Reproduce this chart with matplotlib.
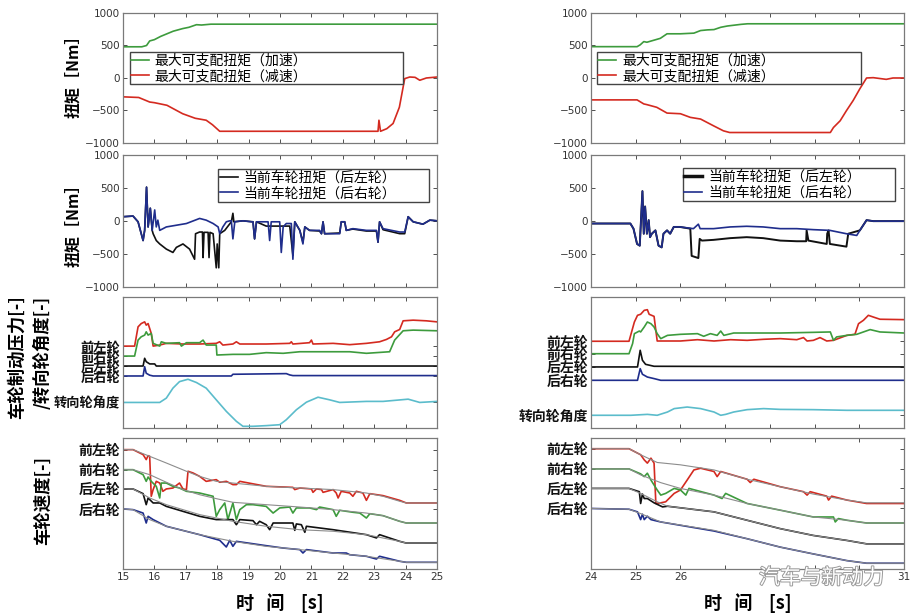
import matplotlib
matplotlib.use('Agg')
import numpy as np
import matplotlib.pyplot as plt
import matplotlib.patheffects as pe
from matplotlib import font_manager

plt.rcParams['font.family'] = ['Noto Sans CJK SC', 'DejaVu Sans']
_names = {f.name for f in font_manager.fontManager.ttflist}
NUM_FONT = 'Liberation Sans Narrow' if 'Liberation Sans Narrow' in _names else 'DejaVu Sans'

GREEN = '#3d9b3d'
RED = '#d42a20'
BLACK = '#111111'
BLUE = '#1f2d8c'
CYAN = '#5bbccb'
GREY = '#8c8c8c'

# --- labels ---
acc_label = '最大可支配扭矩（加速）'
dec_label = '最大可支配扭矩（减速）'
rl_trq_label = '当前车轮扭矩（后左轮）'
rr_trq_label = '当前车轮扭矩（后右轮）'
wheel_names = ['前左轮', '前右轮', '后左轮', '后右轮']
steer_name = '转向轮角度'

# ================= left window: 15-25 s =================
# max torque [Nm]
acc_L = [(15.0, 480), (15.6, 480), (15.75, 500), (15.85, 570), (16.0, 590), (16.2, 640),
         (16.4, 680), (16.6, 720), (16.9, 760), (17.1, 780), (17.34, 820), (17.5, 815),
         (17.8, 828), (25.0, 828)]
dec_L = [(15.0, -290), (15.5, -300), (15.85, -370), (16.0, -380), (16.4, -420), (16.9, -550),
         (17.3, -620), (17.65, -650), (17.85, -720), (18.08, -820), (23.12, -820), (23.15, -650),
         (23.2, -820), (23.4, -780), (23.6, -700), (23.8, -450), (23.97, -10), (24.13, 15),
         (24.3, 10), (24.45, -35), (24.66, 0), (25.0, 15)]

# current wheel torque [Nm]
rr_trq_L = [(15.0, 67), (15.32, 77), (15.48, -10), (15.64, -294), (15.69, -140), (15.75, 516),
            (15.80, -88), (15.87, 196), (15.93, -140), (16.01, 170), (16.06, -88), (16.11, 15),
            (16.17, -140), (16.38, -88), (16.70, -62), (17.02, -36), (17.44, 41), (17.65, 15),
            (17.87, -36), (18.03, -88), (18.08, -191), (18.18, -88), (18.29, -10), (18.40, 5),
            (18.45, 5), (18.50, -269), (18.56, -10), (18.82, 5), (19.09, -10), (19.14, -10),
            (19.19, -269), (19.25, -10), (19.56, -10), (19.62, -10), (19.67, -294), (19.72, -10),
            (19.99, -10), (20.04, -475), (20.10, -88), (20.20, -36), (20.36, -36), (20.41, -578),
            (20.47, -10), (20.63, -140), (20.73, -346), (20.79, -88), (20.94, -140), (21.26, -140),
            (21.32, -191), (21.37, -10), (21.42, -191), (21.90, -191), (21.95, -10), (22.06, -10),
            (22.11, -140), (22.32, -114), (22.75, -140), (23.07, -140), (23.12, -320), (23.17, -10),
            (23.28, -114), (23.81, -165), (23.97, -165), (24.08, 67), (24.24, -10), (24.55, -46),
            (24.77, 15), (25.0, 5)]
rl_trq_L = [(15.0, 67), (15.32, 77), (15.48, -10), (15.64, -294), (15.69, -140), (15.75, 516),
            (15.80, -88), (15.87, 196), (15.93, -140), (15.96, -191), (16.06, -294), (16.17, -346),
            (16.38, -424), (16.59, -475), (16.70, -398), (16.91, -346), (17.12, -424), (17.28, -578),
            (17.31, -191), (17.44, -165), (17.53, -165), (17.55, -553), (17.58, -170), (17.71, -170),
            (17.74, -553), (17.77, -170), (17.87, -191), (17.97, -708), (18.00, -346), (18.05, -708),
            (18.08, -191), (18.24, -140), (18.45, -10), (18.50, 119), (18.53, -10), (18.82, 5),
            (19.14, -10), (19.19, -269), (19.25, -10), (19.56, -75), (20.31, -75), (20.41, -520),
            (20.47, -10), (20.63, -140), (20.73, -320), (20.79, -88), (20.94, -140), (21.26, -150),
            (21.32, -191), (21.37, -10), (21.42, -191), (21.90, -180), (21.95, -10), (22.06, -10),
            (22.11, -140), (22.32, -120), (22.75, -150), (23.07, -150), (23.12, -320), (23.17, -10),
            (23.28, -130), (23.81, -190), (23.97, -190), (24.08, 67), (24.24, -10), (24.55, -46),
            (24.77, 15), (25.0, 5)]

# brake pressure / steering angle [-]
fl_prs_L = [(15.0, 62.5), (15.37, 62.5), (15.48, 77.2), (15.58, 79.7), (15.69, 81.0), (15.74, 78.5),
            (15.80, 79.7), (15.90, 72.2), (15.96, 62.5), (16.17, 63.3), (16.38, 64.6), (16.91, 64.1),
            (17.44, 64.1), (17.97, 64.6), (18.08, 65.8), (18.18, 63.3), (18.50, 64.1), (18.61, 65.8),
            (18.72, 64.1), (19.56, 64.1), (20.31, 64.6), (20.36, 65.8), (20.41, 64.1), (20.94, 65.1),
            (21.00, 67.1), (21.05, 64.1), (21.69, 64.6), (22.22, 63.6), (22.75, 64.6), (23.17, 65.8),
            (23.39, 67.6), (23.55, 69.6), (23.65, 73.4), (23.81, 75.2), (23.92, 81.8), (24.24, 82.3),
            (24.66, 81.8), (25.0, 81.0)]
fr_prs_L = [(15.0, 54.9), (15.37, 54.9), (15.48, 67.1), (15.58, 69.6), (15.69, 70.9), (15.74, 73.4),
            (15.80, 70.9), (15.90, 72.2), (15.96, 64.6), (16.17, 62.5), (16.22, 65.8), (16.38, 64.6),
            (16.80, 65.1), (16.86, 62.5), (17.02, 65.1), (17.44, 65.1), (17.55, 67.1), (17.65, 63.3),
            (17.97, 63.3), (17.99, 55.7), (18.50, 56.2), (19.03, 56.2), (19.56, 57.5), (20.10, 57.0),
            (20.63, 58.2), (21.69, 58.2), (22.22, 58.2), (22.75, 57.0), (23.49, 58.2), (23.65, 67.1),
            (23.92, 74.2), (24.24, 74.7), (25.0, 74.2)]
rl_prs_L = [(15.0, 47.3), (15.64, 47.3), (15.69, 53.2), (15.74, 50.6), (15.85, 48.9), (16.01, 48.9),
            (16.06, 47.3), (25.0, 47.3)]
rr_prs_L = [(15.0, 39.7), (15.64, 39.7), (15.69, 46.8), (15.74, 41.8), (15.85, 40.3), (15.96, 39.7),
            (18.45, 39.7), (18.50, 41.0), (20.20, 41.5), (20.31, 40.5), (20.41, 40.0), (25.0, 40.0)]
steer_L = [(15.0, 19.5), (16.17, 19.5), (16.38, 22.8), (16.59, 30.4), (16.80, 35.4), (17.07, 37.2),
           (17.34, 34.7), (17.65, 30.4), (17.97, 21.5), (18.29, 12.7), (18.61, 5.1), (18.82, 1.3),
           (19.14, 1.3), (19.56, 1.8), (19.99, 2.5), (20.20, 6.3), (20.52, 13.9), (20.84, 19.7),
           (21.21, 23.5), (21.58, 21.5), (21.90, 19.5), (22.75, 20.3), (23.28, 20.3), (24.08, 22.0),
           (24.45, 19.5), (25.0, 20.3)]

# wheel speed [-] (coloured) and reference speed (grey)
fl_spd_L = [(15.0, 91.1), (15.32, 91.1), (15.64, 87.3), (15.74, 83.5), (15.80, 86.5), (15.85, 86.0),
            (15.90, 55.5), (15.96, 60.6), (16.06, 66.9), (16.17, 65.6), (16.27, 59.3), (16.38, 61.1),
            (16.59, 61.8), (16.80, 65.6), (16.91, 61.1), (17.02, 60.6), (17.07, 74.6), (17.23, 73.3),
            (17.44, 70.7), (17.65, 66.9), (17.97, 68.2), (18.08, 66.2), (18.29, 66.9), (18.50, 64.4),
            (18.61, 64.4), (18.72, 66.9), (19.56, 63.1), (20.41, 62.3), (20.47, 60.6), (20.63, 61.8),
            (21.00, 61.1), (21.05, 58.5), (21.16, 61.1), (21.32, 60.6), (21.37, 58.5), (21.69, 60.6),
            (21.79, 58.0), (21.85, 54.2), (21.95, 59.3), (22.22, 58.0), (22.32, 55.5), (22.43, 59.3),
            (22.64, 58.0), (22.75, 52.4), (22.86, 57.5), (23.28, 56.0), (23.81, 52.4), (24.02, 50.4),
            (25.0, 50.4)]
fl_ref_L = [(15.0, 91.1), (15.32, 91.1), (15.85, 86.0), (16.38, 80.9), (17.02, 74.6), (17.44, 70.7),
            (17.97, 66.9), (18.50, 65.6), (19.56, 63.1), (20.63, 61.8), (21.69, 60.6), (22.75, 58.0),
            (23.28, 55.5), (23.81, 51.7), (24.02, 50.4), (25.0, 50.4)]
fr_spd_L = [(15.0, 75.8), (15.32, 75.8), (15.64, 72.0), (15.74, 66.9), (15.80, 70.2), (15.90, 66.9),
            (16.06, 63.1), (16.17, 54.2), (16.22, 65.6), (16.38, 65.6), (16.59, 63.1), (16.80, 61.8),
            (17.02, 59.3), (17.44, 58.0), (17.87, 55.5), (17.97, 40.2), (18.08, 45.3), (18.24, 50.4),
            (18.34, 37.7), (18.50, 50.4), (18.61, 37.7), (18.72, 45.3), (18.93, 49.1), (19.14, 49.1),
            (19.56, 47.8), (19.78, 42.7), (19.99, 46.6), (20.31, 47.3), (20.41, 42.7), (20.52, 46.6),
            (20.94, 46.6), (21.16, 45.3), (21.26, 47.3), (21.69, 45.3), (21.79, 40.2), (21.90, 44.8),
            (22.32, 43.3), (22.54, 42.7), (22.75, 38.9), (22.86, 42.2), (23.28, 40.7), (23.81, 36.4),
            (24.02, 35.1), (25.0, 35.1)]
fr_ref_L = [(15.0, 75.8), (15.32, 75.8), (15.85, 72.0), (16.38, 66.2), (16.91, 60.6), (17.44, 56.7),
            (17.97, 53.7), (18.50, 50.9), (19.56, 49.1), (20.63, 47.3), (21.69, 45.3), (22.75, 42.7),
            (23.28, 40.7), (23.81, 36.4), (24.02, 35.1), (25.0, 35.1)]
rl_spd_L = [(15.0, 61.1), (15.32, 61.1), (15.64, 57.5), (15.74, 49.1), (15.80, 54.2), (15.96, 50.4),
            (16.17, 50.4), (16.38, 47.8), (17.44, 40.2), (17.97, 37.7), (18.50, 37.7), (18.61, 33.8),
            (18.72, 37.7), (19.14, 36.9), (19.25, 33.8), (19.35, 36.4), (19.56, 33.8), (19.67, 30.0),
            (19.78, 35.1), (20.41, 35.1), (20.47, 29.5), (20.52, 34.4), (20.68, 33.8), (20.79, 28.0),
            (20.84, 32.6), (21.69, 30.0), (22.75, 26.2), (23.07, 23.7), (23.17, 26.2), (23.81, 21.1),
            (24.02, 19.8), (25.0, 19.8)]
rl_ref_L = [(15.0, 61.1), (15.32, 61.1), (15.85, 54.2), (16.38, 49.1), (17.44, 41.5), (18.50, 36.4),
            (19.56, 32.6), (20.63, 30.0), (21.69, 28.8), (22.75, 26.2), (23.81, 21.1), (24.02, 19.8),
            (25.0, 19.8)]
rr_spd_L = [(15.0, 45.8), (15.32, 45.3), (15.64, 42.7), (15.74, 35.1), (15.80, 40.2), (15.96, 37.7),
            (16.38, 32.6), (17.44, 26.2), (18.08, 21.9), (18.29, 16.8), (18.40, 21.9), (18.50, 17.3),
            (18.61, 21.1), (19.56, 17.8), (20.10, 16.0), (20.63, 14.8), (20.73, 12.2), (20.84, 14.8),
            (21.69, 12.2), (22.11, 12.2), (22.22, 10.9), (22.75, 9.7), (23.07, 7.6), (23.17, 9.7),
            (23.81, 5.9), (24.02, 5.1), (25.0, 5.1)]
rr_ref_L = [(15.0, 45.8), (15.32, 45.3), (15.85, 37.7), (16.38, 32.6), (17.44, 26.2), (18.50, 21.1),
            (19.56, 17.3), (20.63, 14.8), (21.69, 12.2), (22.75, 9.7), (23.81, 5.9), (24.02, 5.1),
            (25.0, 5.1)]

# ================= right window: 24-31 s =================
acc_R = [(24.0, 482), (25.03, 482), (25.1, 510), (25.18, 560), (25.25, 550), (25.4, 580),
         (25.55, 610), (25.7, 680), (26.0, 680), (26.3, 690), (26.45, 730), (26.6, 740),
         (26.75, 745), (26.9, 780), (27.05, 800), (27.35, 825), (27.5, 834), (31.0, 834)]
dec_R = [(24.0, -337), (25.03, -337), (25.18, -399), (25.25, -410), (25.47, -451), (25.7, -540),
         (26.0, -550), (26.22, -606), (26.45, -632), (26.74, -736), (26.96, -813), (27.1, -839),
         (29.35, -839), (29.42, -762), (29.57, -658), (29.71, -503), (29.86, -347), (30.01, -166),
         (30.16, 0), (30.31, 5), (30.6, -21), (30.75, 0), (31.0, 0)]

rr_trq_R = [(24.0, -36), (24.88, -36), (24.95, -114), (25.03, -346), (25.09, -372), (25.15, 455),
            (25.18, -191), (25.21, 222), (25.25, -191), (25.29, 15), (25.32, -243), (25.36, -191),
            (25.44, -140), (25.51, -372), (25.58, -398), (25.62, -191), (25.70, -140), (25.77, -191),
            (25.85, -88), (25.99, -88), (26.29, -114), (26.40, -46), (26.44, -114), (26.74, -114),
            (27.11, -88), (27.48, -78), (27.85, -88), (28.23, -114), (28.60, -114), (28.97, -129),
            (29.34, -140), (29.71, -191), (29.94, -217), (30.01, -140), (30.16, 15), (30.31, 0),
            (31.0, 0)]
rl_trq_R = [(24.0, -36), (24.88, -36), (24.95, -114), (25.03, -346), (25.09, -372), (25.15, 455),
            (25.18, -191), (25.21, 222), (25.25, -191), (25.29, 15), (25.32, -243), (25.36, -191),
            (25.44, -140), (25.51, -372), (25.58, -398), (25.62, -191), (25.70, -140), (25.77, -191),
            (25.85, -88), (25.99, -88), (26.22, -114), (26.25, -527), (26.40, -560), (26.43, -269),
            (26.48, -295), (26.74, -284), (27.11, -258), (27.48, -243), (27.85, -258), (28.23, -295),
            (28.60, -305), (28.81, -305), (28.82, -140), (28.86, -295), (29.27, -346), (29.28, -191),
            (29.31, -140), (29.34, -346), (29.71, -387), (29.75, -191), (30.01, -140), (30.16, 15),
            (30.31, 0), (31.0, 0)]

fl_prs_R = [(24.0, 66.2), (24.85, 66.2), (24.97, 80.9), (25.04, 86.0), (25.11, 86.8), (25.19, 89.8),
            (25.26, 90.3), (25.30, 86.8), (25.41, 85.2), (25.48, 66.4), (26.0, 66.4), (26.38, 67.4),
            (26.75, 66.4), (27.12, 67.4), (27.49, 66.9), (27.86, 67.7), (28.23, 68.2), (28.60, 67.4),
            (28.75, 69.0), (28.83, 66.4), (28.97, 66.9), (29.12, 69.0), (29.27, 66.4), (29.42, 66.9),
            (29.72, 70.7), (29.90, 71.5), (29.98, 79.6), (30.09, 82.2), (30.20, 86.0), (30.31, 84.7),
            (30.46, 83.0), (31.0, 82.7)]
fr_prs_R = [(24.0, 56.7), (24.85, 56.7), (24.93, 64.4), (24.97, 72.0), (25.08, 74.0), (25.11, 73.3),
            (25.19, 77.1), (25.26, 80.9), (25.34, 79.6), (25.41, 77.1), (25.48, 72.0), (25.56, 68.2),
            (25.71, 70.7), (26.0, 71.5), (26.38, 72.0), (26.52, 70.0), (26.67, 72.0), (26.82, 70.7),
            (26.90, 74.0), (26.97, 70.7), (27.19, 72.5), (27.49, 72.5), (28.23, 72.5), (28.97, 73.0),
            (29.35, 73.3), (29.42, 66.9), (29.49, 69.5), (29.72, 70.7), (29.94, 71.5), (30.09, 73.3),
            (30.24, 75.1), (30.46, 73.3), (31.0, 72.5)]
rl_prs_R = [(24.0, 46.6), (25.04, 46.6), (25.10, 59.3), (25.15, 51.7), (25.22, 48.6), (25.41, 47.1),
            (31.0, 46.6)]
rr_prs_R = [(24.0, 36.4), (25.04, 36.4), (25.10, 45.3), (25.15, 41.0), (25.26, 38.9), (25.41, 37.7),
            (25.56, 36.4), (31.0, 36.4)]
steer_R = [(24.0, 9.7), (24.89, 9.7), (25.26, 10.4), (25.48, 9.7), (25.71, 12.2), (25.86, 14.8),
           (26.15, 16.0), (26.45, 14.8), (26.75, 12.2), (26.90, 9.7), (27.01, 10.4), (27.19, 12.2),
           (27.49, 14.0), (27.86, 14.8), (28.23, 14.2), (28.97, 14.0), (29.72, 13.5), (31.0, 13.5)]

fl_spd_R = [(24.0, 91.8), (24.85, 91.8), (25.11, 87.2), (25.19, 83.3), (25.26, 80.8), (25.34, 84.6),
            (25.41, 80.8), (25.45, 50.0), (25.56, 50.5), (25.67, 51.3), (25.86, 57.7), (26.0, 60.3),
            (26.15, 67.9), (26.30, 75.6), (26.45, 76.9), (26.75, 74.4), (26.82, 70.5), (26.90, 74.4),
            (27.49, 68.5), (27.56, 66.0), (27.64, 68.5), (28.23, 62.8), (28.75, 59.0), (28.83, 56.4),
            (28.90, 59.0), (29.27, 55.6), (29.31, 52.6), (29.38, 55.6), (29.72, 52.6), (30.16, 50.0),
            (31.0, 50.0)]
fl_ref_R = [(24.0, 91.8), (24.85, 91.8), (25.11, 87.2), (25.48, 81.3), (26.0, 79.5), (26.75, 75.6),
            (27.49, 68.5), (28.23, 62.8), (28.97, 57.2), (29.72, 52.6), (30.16, 50.5), (31.0, 50.5)]
fr_spd_R = [(24.0, 76.4), (24.85, 76.4), (25.11, 72.6), (25.19, 70.5), (25.26, 73.1), (25.34, 67.9),
            (25.48, 60.3), (25.56, 56.4), (25.67, 57.7), (25.86, 61.5), (26.0, 60.3), (26.12, 56.4),
            (26.19, 61.5), (26.75, 56.4), (26.93, 53.8), (27.01, 57.7), (27.49, 50.0), (28.23, 44.9),
            (28.97, 39.7), (29.42, 39.7), (29.46, 35.9), (29.53, 38.5), (29.72, 37.2), (30.16, 35.1),
            (31.0, 35.1)]
fr_ref_R = [(24.0, 76.4), (24.85, 76.4), (25.11, 71.8), (25.56, 65.9), (26.0, 61.5), (26.75, 56.4),
            (27.49, 50.0), (28.23, 44.9), (28.97, 39.7), (29.72, 37.2), (30.16, 35.1), (31.0, 35.1)]
rl_spd_R = [(24.0, 61.5), (24.85, 61.5), (25.08, 59.0), (25.11, 50.0), (25.15, 57.2), (25.19, 53.8),
            (25.26, 53.8), (25.41, 50.5), (25.60, 47.4), (25.71, 47.9), (26.75, 43.6), (27.49, 37.2),
            (28.23, 30.8), (28.97, 25.6), (29.72, 21.8), (30.16, 19.2), (31.0, 19.2)]
rl_ref_R = [(24.0, 61.5), (24.85, 61.5), (25.11, 57.7), (25.48, 51.3), (25.71, 47.9), (26.75, 43.6),
            (27.49, 37.2), (28.23, 30.8), (28.97, 25.6), (29.72, 21.8), (30.16, 19.2), (31.0, 19.2)]
rr_spd_R = [(24.0, 46.2), (24.85, 45.6), (25.04, 43.6), (25.11, 37.7), (25.15, 41.8), (25.19, 37.7),
            (25.26, 40.3), (25.34, 37.7), (25.56, 35.9), (26.75, 29.0), (27.49, 23.1), (28.23, 16.7),
            (28.97, 11.5), (29.72, 6.4), (30.16, 4.4), (31.0, 4.4)]
rr_ref_R = [(24.0, 46.2), (24.85, 45.6), (25.11, 42.3), (25.56, 35.9), (26.75, 29.5), (27.49, 23.1),
            (28.23, 16.7), (28.97, 11.5), (29.72, 6.4), (30.16, 4.4), (31.0, 4.4)]

# x tick labels hidden under the watermark in the right window
hidden_ticks_R = [27, 28, 29, 30]


def line(ax, pts, color, lw=1.2, **kw):
    t, v = np.array(pts, dtype=float).T
    return ax.plot(t, v, color=color, lw=lw, **kw)


def style(ax, xlim, show_x, hidden=()):
    ax.set_xlim(*xlim)
    ticks = list(range(int(xlim[0]), int(xlim[1]) + 1))
    ax.set_xticks(ticks)
    ax.set_xticklabels(['' if t in hidden else str(t) for t in ticks])
    ax.tick_params(direction='in', top=True, right=True, length=3, width=0.6,
                   colors='#333333', labelsize=7.5, pad=2, labelbottom=show_x)
    for s in ax.spines.values():
        s.set_color('#7a7a7a')
        s.set_linewidth(0.9)
    for lbl in ax.get_xticklabels():
        lbl.set_family(NUM_FONT)


def torque_axis(ax):
    ax.set_ylim(-1000, 1000)
    ax.set_yticks([-1000, -500, 0, 500, 1000])
    for lbl in ax.get_yticklabels():
        lbl.set_family(NUM_FONT)


def name_axis(ax, series, names, size=10):
    ax.set_ylim(0, 100)
    ax.set_yticks([s[0][1] for s in series])
    ax.set_yticklabels(names, fontsize=size, fontweight='bold', color='#111111')


fig = plt.figure(figsize=(9.13, 6.16), dpi=100)
cols = [0.1347, 0.6473]
widths = [0.344, 0.343]
rows = [(0.7679, 0.211), (0.534, 0.214), (0.3052, 0.2127), (0.0763, 0.2127)]

windows = [
    dict(xlim=(15, 25), acc=acc_L, dec=dec_L, rl_trq=rl_trq_L, rr_trq=rr_trq_L,
         prs=[fl_prs_L, fr_prs_L, rl_prs_L, rr_prs_L], steer=steer_L,
         spd=[fl_spd_L, fr_spd_L, rl_spd_L, rr_spd_L], ref=[fl_ref_L, fr_ref_L, rl_ref_L, rr_ref_L],
         hidden=(), prs_size=9.5,
         leg1=(0.022, 0.485, 0.870, 0.215), leg2=(0.303, 0.674, 0.672, 0.22)),
    dict(xlim=(24, 31), acc=acc_R, dec=dec_R, rl_trq=rl_trq_R, rr_trq=rr_trq_R,
         prs=[fl_prs_R, fr_prs_R, rl_prs_R, rr_prs_R], steer=steer_R,
         spd=[fl_spd_R, fr_spd_R, rl_spd_R, rr_spd_R], ref=[fl_ref_R, fr_ref_R, rl_ref_R, rr_ref_R],
         hidden=hidden_ticks_R, prs_size=10,
         leg1=(0.019, 0.49, 0.843, 0.21), leg2=(0.294, 0.68, 0.677, 0.22)),
]
wheel_colors = [RED, GREEN, BLACK, BLUE]

leg_kw = dict(loc='upper left', mode='expand', borderaxespad=0, fontsize=10,
              handlelength=1.3, handletextpad=0.4, labelspacing=0.12, borderpad=0.1,
              fancybox=False, framealpha=1, edgecolor='#444444')

for c, w in enumerate(windows):
    x0, wd = cols[c], widths[c]
    ax1 = fig.add_axes([x0, rows[0][0], wd, rows[0][1]])
    ax2 = fig.add_axes([x0, rows[1][0], wd, rows[1][1]])
    ax3 = fig.add_axes([x0, rows[2][0], wd, rows[2][1]])
    ax4 = fig.add_axes([x0, rows[3][0], wd, rows[3][1]])

    # max available torque
    line(ax1, w['acc'], GREEN, label=acc_label)
    line(ax1, w['dec'], RED, label=dec_label)
    style(ax1, w['xlim'], False)
    torque_axis(ax1)
    ax1.legend(bbox_to_anchor=w['leg1'], **leg_kw)

    # current wheel torque
    line(ax2, w['rl_trq'], BLACK, label=rl_trq_label, lw=1.2 if c == 0 else 1.4)
    line(ax2, w['rr_trq'], BLUE, label=rr_trq_label)
    style(ax2, w['xlim'], False)
    torque_axis(ax2)
    leg = ax2.legend(bbox_to_anchor=w['leg2'], **leg_kw)
    if c == 1:
        leg.get_lines()[0].set_linewidth(2.5)

    # brake pressure & steering
    for pts, col in zip(w['prs'], wheel_colors):
        line(ax3, pts, col)
    line(ax3, w['steer'], CYAN)
    style(ax3, w['xlim'], False)
    name_axis(ax3, w['prs'] + [w['steer']], wheel_names + [steer_name], w['prs_size'])

    # wheel speed
    for pts, ref, col in zip(w['spd'], w['ref'], wheel_colors):
        line(ax4, pts, col)
        line(ax4, ref, GREY, lw=0.8)
    style(ax4, w['xlim'], True, w['hidden'])
    name_axis(ax4, w['spd'], wheel_names)

    fig.text(x0 + wd / 2, 0.021, '时   间    [s]', ha='center', va='center',
             fontsize=13, fontweight='bold')

# y labels (left column only)
fig.text(0.080, 0.883, '扭矩［Nm］', rotation=90, ha='center', va='center', fontsize=11.5, fontweight='bold')
fig.text(0.080, 0.640, '扭矩［Nm］', rotation=90, ha='center', va='center', fontsize=11.5, fontweight='bold')
fig.text(0.019, 0.420, '车轮制动压力[-]', rotation=90, ha='center', va='center', fontsize=12.5, fontweight='bold')
fig.text(0.047, 0.428, '/转向轮角度[-]', rotation=90, ha='center', va='center', fontsize=12.5, fontweight='bold')
fig.text(0.047, 0.187, '车轮速度[-]', rotation=90, ha='center', va='center', fontsize=12.5, fontweight='bold')

# watermark
fig.text(0.900, 0.062, '汽车与新动力', ha='center', va='center', fontsize=15, color='white', zorder=10,
         path_effects=[pe.withStroke(linewidth=1.4, foreground='#9a9a9a')])

fig.savefig('out.png', dpi=100)
